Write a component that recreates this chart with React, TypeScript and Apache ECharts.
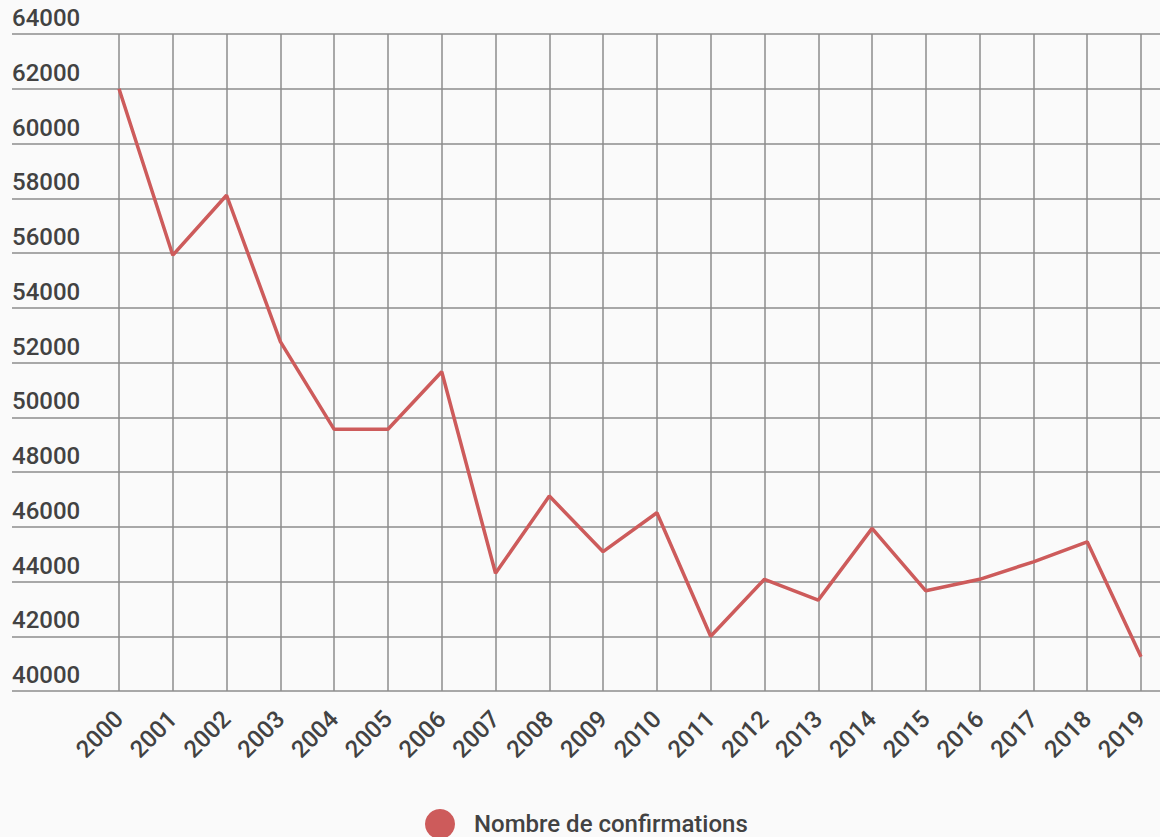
import React, { useEffect, useRef } from "react";
import * as echarts from "echarts";

const years = ["2000","2001","2002","2003","2004","2005","2006","2007","2008","2009","2010","2011","2012","2013","2014","2015","2016","2017","2018","2019"];
const confirmations = [62000, 55920, 58110, 52760, 49560, 49560, 51660, 44300, 47120, 45090, 46510, 42000, 44080, 43320, 45940, 43660, 44080, 44720, 45450, 41250];
const seriesName = "Nombre de confirmations";
const yMin = 40000;
const yMax = 64000;
const yStep = 2000;

const FONT = "Roboto, 'Noto Sans', sans-serif";
const GRID_COLOR = "#8c8c8c";
const TEXT_COLOR = "#424242";
const LINE_COLOR = "#cd5b5b";
const WEIGHT = 500;

export default function App() {
  const ref = useRef<HTMLDivElement>(null);
  useEffect(() => {
    if (!ref.current) return;
    const chart = echarts.init(ref.current, null, { renderer: "svg" });
    chart.setOption({
      animation: false,
      backgroundColor: "#fafafa",
      textStyle: { fontFamily: FONT },
      legend: {
        data: [{ name: seriesName, icon: "circle" }],
        left: 425,
        top: 809,
        padding: 0,
        itemWidth: 30,
        itemHeight: 30,
        itemGap: 18,
        textStyle: { fontSize: 24, fontWeight: WEIGHT, color: TEXT_COLOR, fontFamily: FONT, padding: [0, 0, 0, 14] },
      },
      grid: [
        { left: 12, right: 0, top: 34, bottom: 146, containLabel: false },
        { left: 119, right: 19, top: 34, bottom: 146, containLabel: false },
      ],
      xAxis: [
        { type: "value", gridIndex: 0, show: false, min: 0, max: 1 },
        {
          type: "category",
          gridIndex: 1,
          data: years,
          boundaryGap: false,
          axisLine: { show: false },
          axisTick: { show: false },
          splitLine: { show: true, lineStyle: { color: GRID_COLOR, width: 1.5 } },
          axisLabel: {
            rotate: 45,
            margin: 24,
            padding: [11, 0, 0, 0],
            fontSize: 24,
            fontWeight: WEIGHT,
            color: TEXT_COLOR,
            fontFamily: FONT,
            interval: 0,
          },
        },
      ],
      yAxis: [
        {
          type: "value",
          gridIndex: 0,
          min: yMin,
          max: yMax,
          interval: yStep,
          axisLine: { show: false },
          axisTick: { show: false },
          splitLine: { show: true, lineStyle: { color: GRID_COLOR, width: 1.5 } },
          axisLabel: {
            inside: true,
            margin: 0,
            align: "left",
            verticalAlign: "bottom",
            padding: [0, 0, 4, 0],
            fontSize: 24,
            fontWeight: WEIGHT,
            color: TEXT_COLOR,
            fontFamily: FONT,
            formatter: (v: number) => String(v),
          },
        },
        { type: "value", gridIndex: 1, show: false, min: yMin, max: yMax, interval: yStep, splitLine: { show: false } },
      ],
      series: [
        {
          name: seriesName,
          type: "line",
          xAxisIndex: 1,
          yAxisIndex: 1,
          data: confirmations,
          showSymbol: false,
          symbol: "none",
          color: LINE_COLOR,
          lineStyle: { color: LINE_COLOR, width: 3.5 },
        },
      ],
    });
    return () => chart.dispose();
  }, []);
  return <div ref={ref} style={{ position: "fixed", left: 0, top: 0, width: 1160, height: 837 }} />;
}
